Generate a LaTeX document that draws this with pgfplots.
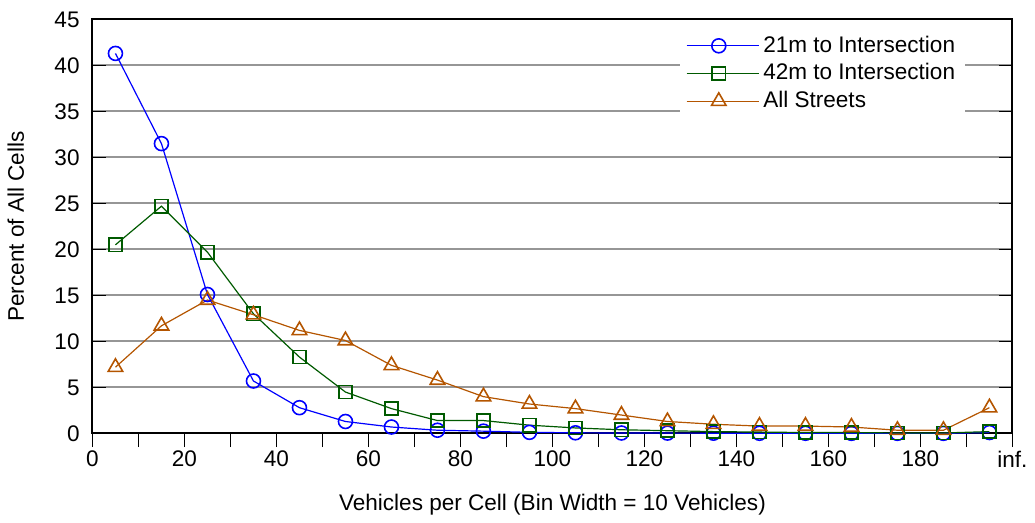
\documentclass[border=0pt]{standalone}
\usepackage{fontspec}
\setmainfont{Liberation Sans}
\usepackage{pgfplots}
\pgfplotsset{compat=1.18}
\definecolor{cblue}{RGB}{0,0,255}
\definecolor{cgreen}{RGB}{0,90,0}
\definecolor{corange}{RGB}{180,85,0}
\definecolor{cgrid}{RGB}{150,150,150}
\begin{document}
\fontsize{11.3}{13.5}\selectfont
\begin{tikzpicture}
\begin{axis}[
  name=main,
  scale only axis,
  width=461pt, height=207.5pt,
  xmin=0, xmax=200, ymin=0, ymax=45,
  xtick={0,20,...,200},
  xticklabels={0,20,40,60,80,100,120,140,160,180,inf.},
  minor xtick={10,30,...,190},
  ytick={0,5,...,45},
  xtick pos=bottom,
  x tick style={black, line width=0.8pt},
  xtick align=outside,
  major tick length=6.8pt,
  minor tick length=6.8pt,
  minor x tick style={black, line width=0.8pt},
  y tick style={black, line width=0.8pt},
  ytick align=inside,
  ymajorgrids,
  grid style={cgrid, line width=1pt},
  axis line style={black, line width=1pt},
  /pgf/number format/assume math mode=true,
  tick label style={font=\fontsize{11.3}{13.5}\selectfont},
  xticklabel style={yshift=2pt},
  yticklabel style={xshift=-2.5pt},
  xlabel={Vehicles per Cell (Bin Width = 10 Vehicles)},
  ylabel={Percent of All Cells},
  xlabel style={yshift=-5.5pt},
  ylabel style={yshift=7.5pt},
  legend style={at={(0.6385,0.985)}, anchor=north west, draw=none, fill=white,
    font=\fontsize{11.3}{13.5}\selectfont, row sep=0pt, inner sep=3pt},
  legend cell align=left,
  legend image code/.code={
    \path (0pt,0pt) -- (36pt,0pt);
    \draw[#1] (0pt,0pt) -- (32pt,0pt);
    \draw[#1, mark repeat=2, mark phase=2] plot coordinates {(0pt,0pt) (16pt,0pt) (32pt,0pt)};
  },
]
\addplot[cblue, line width=0.6pt, mark=o, mark size=3.5pt, mark options={solid, line width=0.8pt}] coordinates {
(5,41.3) (15,31.5) (25,15.1) (35,5.7) (45,2.8) (55,1.3) (65,0.7) (75,0.35) (85,0.25) (95,0.12) (105,0.07) (115,0.05) (125,0.04) (135,0.03) (145,0.02) (155,0.02) (165,0.01) (175,0.01) (185,0.01) (195,0.1)};
\addlegendentry{21m to Intersection}
\addplot[cgreen, line width=0.6pt, mark=square, mark size=3.3pt, mark options={solid, line width=0.8pt}] coordinates {
(5,20.5) (15,24.7) (25,19.7) (35,13.0) (45,8.3) (55,4.5) (65,2.7) (75,1.4) (85,1.4) (95,0.9) (105,0.6) (115,0.4) (125,0.3) (135,0.2) (145,0.15) (155,0.1) (165,0.1) (175,0.05) (185,0.05) (195,0.2)};
\addlegendentry{42m to Intersection}
\addplot[corange, line width=0.6pt, mark=triangle, mark size=4.2pt, mark options={solid, line width=0.8pt}] coordinates {
(5,7.2) (15,11.7) (25,14.5) (35,12.9) (45,11.2) (55,10.1) (65,7.4) (75,5.8) (85,4.0) (95,3.2) (105,2.7) (115,2.0) (125,1.3) (135,1.0) (145,0.8) (155,0.8) (165,0.7) (175,0.35) (185,0.35) (195,2.8)};
\addlegendentry{All Streets}
\end{axis}
\path ([yshift=2pt]current bounding box.north);
\end{tikzpicture}
\end{document}
